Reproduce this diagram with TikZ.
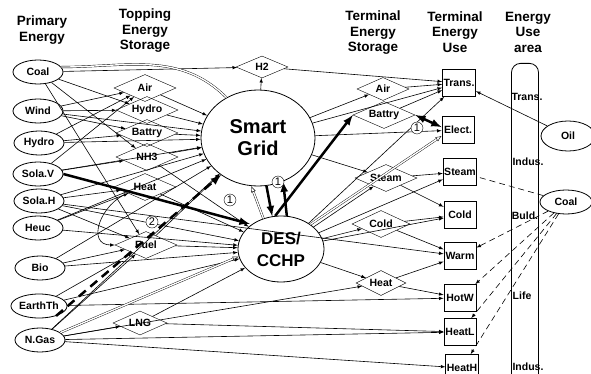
\documentclass[tikz,border=0pt]{standalone}
\usepackage{fontspec}
\setmainfont{Liberation Sans}
\usetikzlibrary{shapes.geometric,arrows,arrows.meta}

\tikzset{
  src/.style={ellipse, draw, thick, minimum width=50pt, minimum height=24pt, inner sep=0pt,
    font=\bfseries\fontsize{10.5}{12}\selectfont},
  stor/.style={diamond, draw, aspect=2.3, minimum width=62pt, minimum height=27pt, inner sep=0pt,
    font=\bfseries\fontsize{10.5}{12}\selectfont},
  enduse/.style={rectangle, draw, thick, minimum width=32pt, minimum height=27pt, inner sep=1pt,
    font=\bfseries\fontsize{10.5}{12}\selectfont},
  hub/.style={ellipse, draw, thick, align=center, inner sep=0pt},
  hdr/.style={align=center, inner sep=0pt, font=\bfseries\fontsize{13.5}{15.5}\selectfont},
  area/.style={inner sep=0pt, font=\bfseries\fontsize{10.5}{12}\selectfont},
  num/.style={circle, draw, inner sep=0.8pt, fill=white, font=\fontsize{11}{12}\selectfont},
  fl/.style={->, line width=0.6pt},
  big/.style={->, line width=2.5pt},
  dbl/.style={double, double distance=1.4pt, -{Latex[open,length=6pt,width=5pt]}},
  dsh/.style={->, line width=0.6pt, dash pattern=on 6pt off 4pt},
}

\begin{document}
\begin{tikzpicture}[x=1pt,y=-1pt,>=latex]
\useasboundingbox (0,0) rectangle (591,374);

\node[hdr] (hprim) at (42,30) {Primary\\Energy};
\node[hdr] (htop) at (145,31) {Topping\\Energy\\Storage};
\node[hdr] (hterm) at (373,33) {Terminal\\Energy\\Storage};
\node[hdr] (huse) at (455,32) {Terminal\\Energy\\Use};
\node[hdr] (harea) at (528,32) {Energy\\Use\\area};

% primary energy
\node[src] (coal) at (38,72) {Coal};
\node[src] (wind) at (38,111) {Wind};
\node[src] (hydro) at (39,143) {Hydro};
\node[src] (solav) at (38,174) {Sola.V};
\node[src] (solah) at (39,201) {Sola.H};
\node[src] (heuc) at (38,228) {Heuc};
\node[src] (bio) at (40,268) {Bio};
\node[src] (earth) at (39,306) {EarthTh};
\node[src] (ngas) at (40,340) {N.Gas};

% topping storage
\node[stor] (tair) at (145,88) {Air};
\node[stor] (thydro) at (147,110) {Hydro};
\node[stor] (tbat) at (147,133) {Battry};
\node[stor] (tnh3) at (147,157) {NH3};
\node[stor] (theat) at (145,187) {Heat};
\node[stor] (fuel) at (146,245) {Fuel};
\node[stor, minimum width=54pt, minimum height=24pt] (lng) at (140,323) {LNG};
\node[stor, minimum width=52pt, minimum height=22pt] (h2) at (262,67) {H2};

\node[hub, minimum width=114pt, minimum height=96pt, font=\bfseries\fontsize{20}{22}\selectfont] (sg) at (258,138) {Smart\\Grid};
\node[hub, minimum width=86pt, minimum height=66pt, font=\bfseries\fontsize{17}{22}\selectfont] (des) at (281,249) {DES/\\CCHP};

% terminal storage
\node[stor, minimum width=52pt, minimum height=23pt] (sair) at (383,89) {Air};
\node[stor] (sbat) at (384,115) {Battry};
\node[stor] (ssteam) at (386,178) {Steam};
\node[stor, minimum width=58pt] (scold) at (381,224) {Cold};
\node[stor, minimum width=50pt, minimum height=25pt] (sheat) at (381,283) {Heat};

% terminal use
\node[enduse] (trans) at (459,83) {Trans.};
\node[enduse] (elect) at (458,130) {Elect.};
\node[enduse] (steam) at (460,172) {Steam};
\node[enduse] (cold) at (460,215) {Cold};
\node[enduse] (warm) at (460,256) {Warm};
\node[enduse] (hotw) at (460,298) {HotW};
\node[enduse] (heatl) at (460,332) {HeatL};
\node[enduse] (heath) at (462,368) {HeatH};

% use area
\node[draw, thick, rounded corners=9pt, minimum width=27pt, minimum height=340pt, anchor=north] (col) at (525,63) {};
\node[area] (atrans) at (527,97) {Trans.};
\node[area] (aind) at (528,162) {Indus.};
\node[area] (abuld) at (525,216) {Buld.};
\node[area] (alife) at (522,296) {Life};
\node[area] (aind2) at (528,367) {Indus.};
\node[src, minimum width=54pt, minimum height=30pt] (oil) at (568,136) {Oil};
\node[src, minimum width=52pt] (coal2) at (566,202) {Coal};

\path[fl]
  (coal) edge (h2) edge (tnh3) edge (fuel) edge (thydro)
  (wind) edge (tair) edge (thydro) edge (sg) edge (tbat)
  (hydro) edge (sg) edge (tair) edge (tbat)
  (solav) edge (tair) edge (sg) edge (tnh3)
  (solah) edge (theat) edge (sg) edge (des) edge (fuel) edge (warm)
  (heuc) edge (sg) edge (des) edge (theat)
  (bio) edge (fuel) edge (des) edge (sg)
  (earth) edge (des) edge (fuel) edge (hotw)
  (ngas) edge (fuel) edge (lng) edge (heatl) edge (heath) edge (sheat) edge (sg)
  (tair) edge (sg)
  (thydro) edge (sg)
  (tbat) edge (sg)
  (tnh3) edge (sg) edge (des)
  (theat) edge (des)
  (fuel) edge (des) edge (sg)
  (lng) edge (des) edge (heatl)
  (sg) edge (h2) edge (sair) edge (trans) edge (elect) edge (ssteam)
  (h2) edge (trans)
  (sair) edge (trans)
  (sbat) edge (trans)
  (des) edge (ssteam) edge (scold) edge (sheat) edge (steam) edge (trans) edge (cold)
  (ssteam) edge (steam) edge (cold)
  (scold) edge (cold) edge (warm)
  (sheat) edge (warm) edge (hotw)
  (oil) edge (trans);
\draw[fl] (theat) to[out=200,in=180,looseness=1.4] (fuel);

\draw[double, double distance=1.4pt] (coal.12) to[out=0,in=135] (sg.128);
\draw[dbl] (ngas.20) -- (des.190);
\draw[dbl] (des.120) -- (sg.262);
\draw[dbl] (des.40) -- (elect.200);

\draw[big, shorten >=2pt] (solav.east) -- (des.140);
\draw[big, dashed, dash pattern=on 9pt off 6pt] (earth.-30) -- (sg.225);
\draw[big] (des.100) -- (sbat.west);
\draw[big] (sg.280) -- (des.105);
\draw[big] (des.80) -- (sg.300);
\draw[big, <->] (sbat.east) -- (elect.170);

\path[dsh]
  (coal2) edge (warm) edge (hotw) edge (heatl) edge (heath);
\draw[line width=0.6pt, dash pattern=on 6pt off 4pt] (coal2) -- (steam);

\node[num] (n1a) at (230,200) {1};
\node[num] (n1b) at (278,182) {1};
\node[num] (n1c) at (417,128) {1};
\node[num] (n2) at (152,222) {2};
\end{tikzpicture}
\end{document}
